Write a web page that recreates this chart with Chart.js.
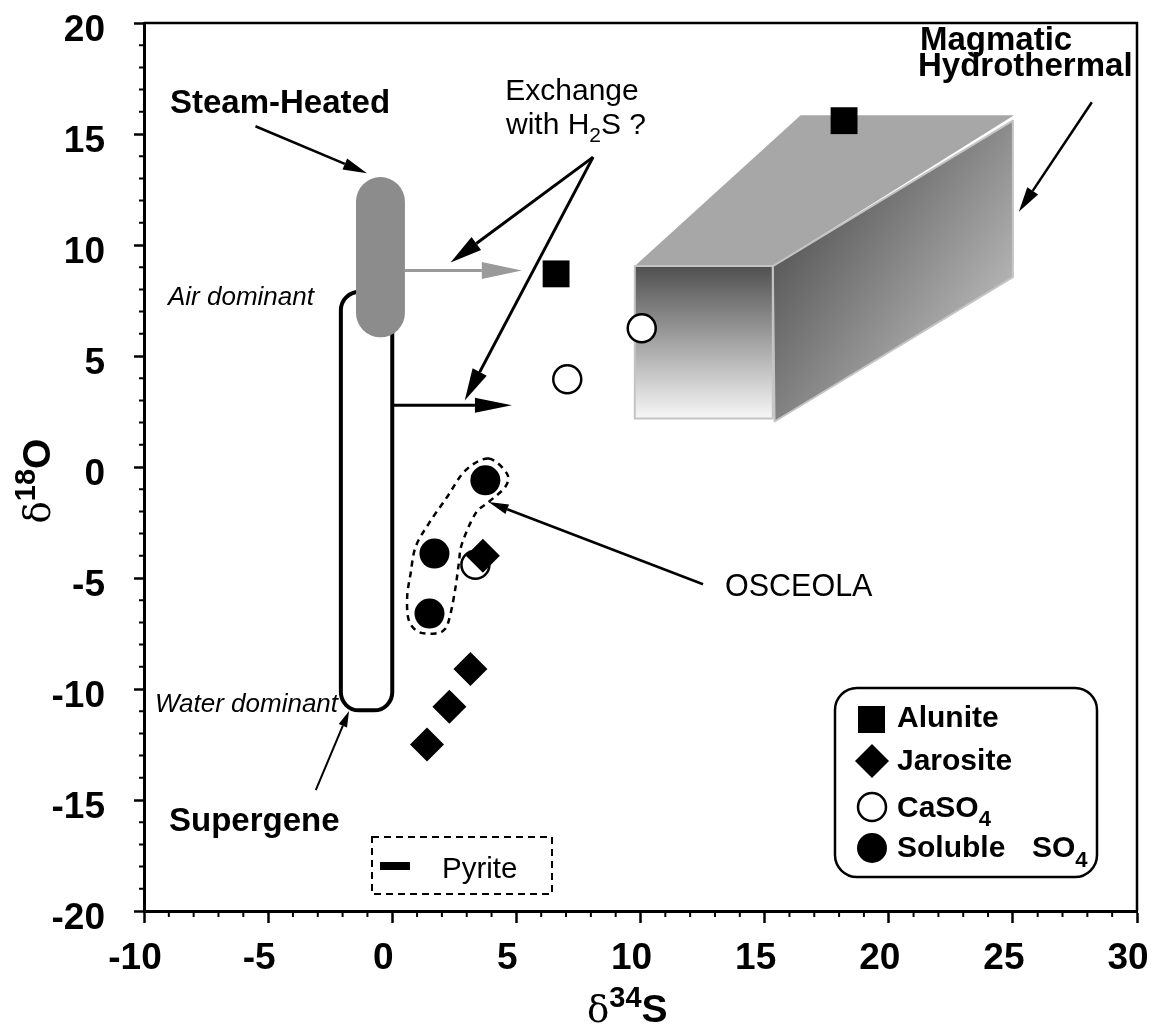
<!DOCTYPE html>
<html>
<head>
<meta charset="utf-8">
<script src="https://cdn.jsdelivr.net/npm/chart.js@4.4.1/dist/chart.umd.min.js"></script>
<style>
html, body { margin: 0; padding: 0; background: #fff; }
</style>
</head>
<body>
<canvas id="myChart" width="1156" height="1028"></canvas>
<script>
// axis ranges
var xMin = -10, xMax = 30;
var yMin = -20, yMax = 20;
var majorStep = 5;

// values: d34S (x) and d18O (y)
var aluniteX = [6.6, 18.2];
var aluniteY = [8.7, 15.6];
var jarositeX = [3.65, 3.15, 2.3, 1.4];
var jarositeY = [-4.0, -9.1, -10.8, -12.5];
var caso4X = [10.05, 7.05, 3.35];
var caso4Y = [6.25, 3.95, -4.4];
var solubleX = [3.75, 1.7, 1.5];
var solubleY = [-0.6, -3.9, -6.6];

function pts(xs, ys) {
    return xs.map(function (x, i) { return { x: x, y: ys[i] }; });
}

var SANS = "'Liberation Sans', Arial, sans-serif";
var SERIF = "'DejaVu Serif', 'Liberation Serif', serif";

// ---- drawing helpers ----
function P(chart, x, y) {
    return [chart.scales.x.getPixelForValue(x), chart.scales.y.getPixelForValue(y)];
}

function poly(ctx, chart, list) {
    ctx.beginPath();
    list.forEach(function (p, i) {
        var q = P(chart, p[0], p[1]);
        if (i === 0) ctx.moveTo(q[0], q[1]); else ctx.lineTo(q[0], q[1]);
    });
    ctx.closePath();
}

function roundRect(ctx, x, y, w, h, r) {
    ctx.beginPath();
    ctx.moveTo(x + r, y);
    ctx.arcTo(x + w, y, x + w, y + h, r);
    ctx.arcTo(x + w, y + h, x, y + h, r);
    ctx.arcTo(x, y + h, x, y, r);
    ctx.arcTo(x, y, x + w, y, r);
    ctx.closePath();
}

function arrow(ctx, chart, a, color, lw, hl, hw) {
    var p1 = P(chart, a[0], a[1]), p2 = P(chart, a[2], a[3]);
    var ang = Math.atan2(p2[1] - p1[1], p2[0] - p1[0]);
    var bx = p2[0] - Math.cos(ang) * hl, by = p2[1] - Math.sin(ang) * hl;
    ctx.save();
    ctx.strokeStyle = color;
    ctx.fillStyle = color;
    ctx.lineWidth = lw;
    ctx.beginPath();
    ctx.moveTo(p1[0], p1[1]);
    ctx.lineTo(bx, by);
    ctx.stroke();
    ctx.beginPath();
    ctx.moveTo(p2[0], p2[1]);
    ctx.lineTo(bx + Math.sin(ang) * hw / 2, by - Math.cos(ang) * hw / 2);
    ctx.lineTo(bx - Math.sin(ang) * hw / 2, by + Math.cos(ang) * hw / 2);
    ctx.closePath();
    ctx.fill();
    ctx.restore();
}

function runsWidth(ctx, runs) {
    var w = 0;
    runs.forEach(function (r) { ctx.font = r.font; w += ctx.measureText(r.text).width + (r.gap || 0); });
    return w;
}

function drawRuns(ctx, runs, x, y) {
    runs.forEach(function (r) {
        ctx.font = r.font;
        ctx.fillText(r.text, x, y + (r.dy || 0));
        x += ctx.measureText(r.text).width + (r.gap || 0);
    });
}

// annotation geometry (data coordinates)
var boxTop = [[9.77, 9.05], [16.45, 15.84], [25.05, 15.84], [15.33, 9.05]];
var boxSide = [[15.33, 9.05], [25.0, 15.6], [25.0, 8.55], [15.4, 2.05]];
var boxFront = [[9.77, 9.05], [15.33, 9.05], [15.33, 2.18], [9.77, 2.18]];
var steamCap = [-1.46, 0.51, 5.84, 13.06];
var superCap = [-2.07, 0, -10.96, 7.88];
var osceolaLoop = [[3.88, 0.38], [4.62, -0.30], [4.55, -0.90], [3.88, -1.58], [3.35, -2.10],
    [2.81, -3.45], [2.68, -4.35], [2.55, -5.41], [2.35, -6.60], [2.14, -7.28], [1.74, -7.50],
    [1.07, -7.43], [0.67, -6.91], [0.60, -5.86], [0.74, -4.80], [0.94, -3.60], [1.47, -2.55],
    [2.21, -1.35], [2.95, -0.15]];

var decor = {
    id: 'decor',
    beforeDatasetsDraw: function (chart) {
        var ctx = chart.ctx;
        ctx.save();

        // magmatic-hydrothermal box
        poly(ctx, chart, boxTop);
        ctx.fillStyle = '#a7a7a7';
        ctx.fill();

        var s0 = P(chart, 16.5, 12), s1 = P(chart, 23.5, 6.5);
        var g = ctx.createLinearGradient(s0[0], s0[1], s1[0], s1[1]);
        g.addColorStop(0, '#565656');
        g.addColorStop(1, '#b0b0b0');
        poly(ctx, chart, boxSide);
        ctx.fillStyle = g;
        ctx.fill();

        var f0 = P(chart, 10, 9.05), f1 = P(chart, 10, 2.18);
        var g2 = ctx.createLinearGradient(f0[0], f0[1], f1[0], f1[1]);
        g2.addColorStop(0, '#505050');
        g2.addColorStop(1, '#f7f7f7');
        poly(ctx, chart, boxFront);
        ctx.fillStyle = g2;
        ctx.fill();

        ctx.strokeStyle = '#c4c4c4';
        ctx.lineWidth = 2;
        ctx.lineJoin = 'round';
        poly(ctx, chart, boxSide); ctx.stroke();
        poly(ctx, chart, boxFront); ctx.stroke();

        // supergene field (outline)
        var a = P(chart, superCap[0], superCap[3]), b = P(chart, superCap[1], superCap[2]);
        roundRect(ctx, a[0], a[1], b[0] - a[0], b[1] - a[1], 18);
        ctx.strokeStyle = '#000';
        ctx.lineWidth = 4;
        ctx.stroke();

        // steam-heated field (grey)
        a = P(chart, steamCap[0], steamCap[3]);
        b = P(chart, steamCap[1], steamCap[2]);
        roundRect(ctx, a[0], a[1], b[0] - a[0], b[1] - a[1], (b[0] - a[0]) / 2);
        ctx.fillStyle = '#8c8c8c';
        ctx.fill();

        // dashed loop around the Osceola points
        var q = osceolaLoop.map(function (p) { return P(chart, p[0], p[1]); });
        var n = q.length;
        ctx.beginPath();
        ctx.moveTo(q[0][0], q[0][1]);
        for (var i = 0; i < n; i++) {
            var p0 = q[(i - 1 + n) % n], p1 = q[i], p2 = q[(i + 1) % n], p3 = q[(i + 2) % n];
            ctx.bezierCurveTo(p1[0] + (p2[0] - p0[0]) / 6, p1[1] + (p2[1] - p0[1]) / 6,
                p2[0] - (p3[0] - p1[0]) / 6, p2[1] - (p3[1] - p1[1]) / 6, p2[0], p2[1]);
        }
        ctx.closePath();
        ctx.setLineDash([6, 5]);
        ctx.lineWidth = 2.5;
        ctx.strokeStyle = '#000';
        ctx.stroke();
        ctx.setLineDash([]);

        ctx.restore();
    },
    afterDraw: function (chart) {
        var ctx = chart.ctx, area = chart.chartArea;
        var xs = chart.scales.x, ys = chart.scales.y;
        ctx.save();

        // top and right frame
        ctx.strokeStyle = '#000';
        ctx.lineWidth = 2.5;
        ctx.beginPath();
        ctx.moveTo(area.left, area.top);
        ctx.lineTo(area.right, area.top);
        ctx.lineTo(area.right, area.bottom);
        ctx.stroke();

        // minor ticks
        ctx.lineWidth = 2;
        ctx.beginPath();
        for (var v = xMin; v <= xMax; v++) {
            if (v % majorStep === 0) continue;
            var xp = xs.getPixelForValue(v);
            ctx.moveTo(xp, area.bottom);
            ctx.lineTo(xp, area.bottom + 6);
        }
        for (v = yMin; v <= yMax; v++) {
            if (v % majorStep === 0) continue;
            var yp = ys.getPixelForValue(v);
            ctx.moveTo(area.left, yp);
            ctx.lineTo(area.left - 5, yp);
        }
        ctx.stroke();

        // arrows
        arrow(ctx, chart, [-5.51, 15.35, -1.02, 13.23], '#000', 2.5, 24, 12);
        arrow(ctx, chart, [0.51, 8.85, 5.22, 8.85], '#9a9a9a', 3, 40, 17);
        arrow(ctx, chart, [0, 2.78, 4.82, 2.78], '#000', 3, 37, 15);
        arrow(ctx, chart, [8.09, 13.96, 2.35, 9.21], '#000', 3, 32, 16);
        arrow(ctx, chart, [8.09, 13.96, 2.92, 3.0], '#000', 3, 32, 16);
        arrow(ctx, chart, [12.52, -5.28, 3.88, -1.58], '#000', 2.5, 20, 10);
        arrow(ctx, chart, [-3.08, -14.56, -1.74, -10.99], '#000', 2, 16, 9);
        arrow(ctx, chart, [28.18, 16.43, 25.24, 11.5], '#000', 2.5, 25, 13);

        // labels
        ctx.fillStyle = '#000';
        ctx.textBaseline = 'alphabetic';
        ctx.textAlign = 'left';
        ctx.font = 'bold 33px ' + SANS;
        ctx.fillText('Steam-Heated', 170, 113);
        ctx.fillText('Supergene', 169, 831);
        ctx.fillText('Magmatic', 920, 50);
        ctx.fillText('Hydrothermal', 918, 76);

        ctx.font = 'italic 26px ' + SANS;
        ctx.fillText('Air dominant', 168, 305);
        ctx.fillText('Water dominant', 155, 712);

        ctx.font = '30.5px ' + SANS;
        ctx.fillText('OSCEOLA', 725, 596);

        ctx.textAlign = 'center';
        ctx.font = '30px ' + SANS;
        ctx.fillText('Exchange', 572, 100);
        ctx.textAlign = 'left';
        var h2s = [
            { text: 'with H', font: '30px ' + SANS },
            { text: '2', font: '21px ' + SANS, dy: 8 },
            { text: 'S ?', font: '30px ' + SANS }
        ];
        drawRuns(ctx, h2s, 576 - runsWidth(ctx, h2s) / 2, 134);

        // legend box
        roundRect(ctx, 835, 688, 262, 189, 22);
        ctx.strokeStyle = '#000';
        ctx.lineWidth = 2.5;
        ctx.stroke();
        ctx.fillStyle = '#000';
        ctx.fillRect(858, 706, 27, 27);
        ctx.beginPath();
        ctx.moveTo(872, 744); ctx.lineTo(889, 761); ctx.lineTo(872, 778); ctx.lineTo(855, 761);
        ctx.closePath();
        ctx.fill();
        ctx.beginPath();
        ctx.arc(872, 807, 14, 0, Math.PI * 2);
        ctx.fillStyle = '#fff';
        ctx.fill();
        ctx.lineWidth = 2.5;
        ctx.stroke();
        ctx.fillStyle = '#000';
        ctx.beginPath();
        ctx.arc(872, 848, 15, 0, Math.PI * 2);
        ctx.fill();

        var bold30 = 'bold 30px ' + SANS, bold22 = 'bold 22px ' + SANS;
        ctx.font = bold30;
        ctx.fillText('Alunite', 897, 727);
        ctx.fillText('Jarosite', 897, 770);
        drawRuns(ctx, [{ text: 'CaSO', font: bold30 }, { text: '4', font: bold22, dy: 9 }], 897, 817);
        ctx.font = bold30;
        ctx.fillText('Soluble', 897, 857);
        drawRuns(ctx, [{ text: 'SO', font: bold30 }, { text: '4', font: bold22, dy: 10 }], 1032, 857);

        // pyrite box
        ctx.setLineDash([7, 5]);
        ctx.lineWidth = 2;
        ctx.strokeRect(372, 837, 180, 57);
        ctx.setLineDash([]);
        ctx.fillRect(380, 862, 30, 8);
        ctx.font = '29.5px ' + SANS;
        ctx.fillText('Pyrite', 442, 878);

        // axis titles
        var xt = [
            { text: '\u03B4', font: '37px ' + SERIF },
            { text: '34', font: 'bold 29px ' + SANS, dy: -15 },
            { text: 'S', font: 'bold 39px ' + SANS }
        ];
        drawRuns(ctx, xt, 587, 1022);

        var yt = [
            { text: '\u03B4', font: '37px ' + SERIF },
            { text: '18', font: 'bold 29px ' + SANS, dy: -15 },
            { text: 'O', font: 'bold 39px ' + SANS }
        ];
        ctx.translate(50, 481);
        ctx.rotate(-Math.PI / 2);
        drawRuns(ctx, yt, -runsWidth(ctx, yt) / 2, 0);

        ctx.restore();
    }
};

function tickColor(c) {
    return (c.tick && c.tick.value % majorStep === 0) ? '#000' : 'rgba(0,0,0,0)';
}

function majorLabel(v) {
    return v % majorStep === 0 ? v : '';
}

var ctx = document.getElementById('myChart').getContext('2d');

var myChart = new Chart(ctx, {
    type: 'scatter',
    data: {
        datasets: [
            {
                label: 'Alunite',
                data: pts(aluniteX, aluniteY),
                pointStyle: 'rect',
                pointRadius: 19,
                backgroundColor: '#000',
                borderColor: '#000',
                borderWidth: 0
            },
            {
                label: 'Jarosite',
                data: pts(jarositeX, jarositeY),
                pointStyle: 'rectRot',
                pointRadius: 17,
                backgroundColor: '#000',
                borderColor: '#000',
                borderWidth: 0
            },
            {
                label: 'CaSO4',
                data: pts(caso4X, caso4Y),
                pointStyle: 'circle',
                pointRadius: 14,
                backgroundColor: '#fff',
                borderColor: '#000',
                borderWidth: 2.5
            },
            {
                label: 'Soluble SO4',
                data: pts(solubleX, solubleY),
                pointStyle: 'circle',
                pointRadius: 15,
                backgroundColor: '#000',
                borderColor: '#000',
                borderWidth: 0
            }
        ]
    },
    options: {
        responsive: false,
        animation: false,
        layout: { padding: { top: 23, right: 16, left: 0, bottom: 0 } },
        plugins: {
            legend: { display: false },
            tooltip: { enabled: false }
        },
        scales: {
            x: {
                type: 'linear',
                min: xMin,
                max: xMax,
                afterFit: function (s) { s.height = 117; s.paddingLeft = 0; s.paddingRight = 0; },
                border: { display: true, color: '#000', width: 3 },
                grid: { drawOnChartArea: false, drawTicks: true, tickLength: 12, tickWidth: 2.5, tickColor: tickColor },
                ticks: {
                    stepSize: 1,
                    autoSkip: false,
                    maxRotation: 0,
                    padding: 14,
                    labelOffset: -9,
                    color: '#000',
                    font: { family: SANS, size: 37, weight: 'bold' },
                    callback: majorLabel
                }
            },
            y: {
                type: 'linear',
                min: yMin,
                max: yMax,
                afterFit: function (s) { s.width = 144; s.paddingTop = 0; s.paddingBottom = 0; },
                border: { display: true, color: '#000', width: 3 },
                grid: { drawOnChartArea: false, drawTicks: true, tickLength: 10, tickWidth: 2.5, tickColor: tickColor },
                ticks: {
                    stepSize: 1,
                    autoSkip: false,
                    padding: 29,
                    labelOffset: 8,
                    color: '#000',
                    font: { family: SANS, size: 37, weight: 'bold' },
                    callback: majorLabel
                }
            }
        }
    },
    plugins: [decor]
});
</script>
</body>
</html>
